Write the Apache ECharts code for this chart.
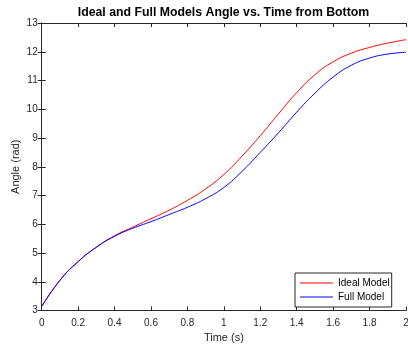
<!DOCTYPE html>
<html>
<head>
<meta charset="utf-8">
<style>html,body{margin:0;padding:0;background:#fff;}#c{width:408px;height:344px;}</style>
<script src="https://cdn.jsdelivr.net/npm/echarts@6/dist/echarts.min.js"></script>
</head>
<body>
<div id="c"></div>
<script>
const times = [0,0.1,0.2,0.3,0.4,0.5,0.6,0.7,0.8,0.9,1.0,1.1,1.2,1.3,1.4,1.5,1.6,1.7,1.8,1.9,2.0];
const idealModel = [3.14,4.05,4.70,5.20,5.60,5.90,6.19,6.49,6.83,7.23,7.73,8.37,9.08,9.84,10.58,11.20,11.65,11.95,12.15,12.30,12.42];
const fullModel  = [3.14,4.05,4.70,5.20,5.58,5.86,6.09,6.34,6.59,6.89,7.28,7.84,8.50,9.18,9.90,10.56,11.12,11.53,11.78,11.92,11.98];
const seriesNames = ['Ideal Model','Full Model'];
const titleText = 'Ideal and Full Models Angle vs. Time from Bottom';
const xName = 'Time (s)';
const yName = 'Angle (rad)';

const FONT = '"Liberation Sans", Arial, Helvetica, sans-serif';
const AX = '#262626';
const chart = echarts.init(document.getElementById('c'), null, {renderer:'canvas'});
const pair = (xs, ys) => xs.map((x,i)=>[x, ys[i]]);
const axisCommon = {
  axisLine:{show:true, lineStyle:{color:AX, width:1}},
  axisTick:{show:true, inside:true, length:4, lineStyle:{color:AX, width:1}},
  splitLine:{show:false},
};
chart.setOption({
  animation:false,
  backgroundColor:'#fff',
  graphic:[{type:'text', x:223.5, y:13, z:10,
    style:{text:titleText, textAlign:'center', textVerticalAlign:'middle',
      font:'bold 12.3px ' + FONT, fill:'#000'}}],
  grid:{left:41.7, right:2, top:23, bottom:33.5, containLabel:false, outerBoundsMode:'none'},
  legend:{show:true, orient:'vertical', left:295, top:273, padding:[4,2,4,5],
    icon:'rect', itemWidth:33, itemHeight:1, itemGap:2,
    borderColor:AX, borderWidth:1, backgroundColor:'#fff',
    textStyle:{fontFamily:FONT, fontSize:10, color:'#000', lineHeight:12},
    data:seriesNames},
  xAxis:[
    Object.assign({type:'value', min:0, max:2, interval:0.2, position:'bottom',
      name:xName, nameLocation:'middle', nameGap:22, nameMoveOverlap:false,
      nameTextStyle:{fontFamily:FONT, fontSize:11, color:AX},
      axisLabel:{fontFamily:FONT, fontSize:10, color:AX, margin:8,
        formatter:v=>String(Math.round(v*10)/10)}}, axisCommon),
    Object.assign({type:'value', min:0, max:2, interval:0.2, position:'top',
      axisLabel:{show:false}}, axisCommon)
  ],
  yAxis:[
    Object.assign({type:'value', min:3, max:13, interval:1, position:'left',
      name:yName, nameLocation:'middle', nameGap:20, nameMoveOverlap:false,
      nameTextStyle:{fontFamily:FONT, fontSize:11, color:AX},
      axisLabel:{fontFamily:FONT, fontSize:10, color:AX, margin:4}}, axisCommon),
    Object.assign({type:'value', min:3, max:13, interval:1, position:'right',
      axisLabel:{show:false}}, axisCommon)
  ],
  series:[
    {name:seriesNames[0], type:'line', data:pair(times, idealModel), smooth:0.5,
      symbol:'none', lineStyle:{color:'#ff0000', width:1}, itemStyle:{color:'#ff0000'}, z:2},
    {name:seriesNames[1], type:'line', data:pair(times, fullModel), smooth:0.5,
      symbol:'none', lineStyle:{color:'#0000ff', width:1}, itemStyle:{color:'#0000ff'}, z:3}
  ]
});
</script>
</body>
</html>
